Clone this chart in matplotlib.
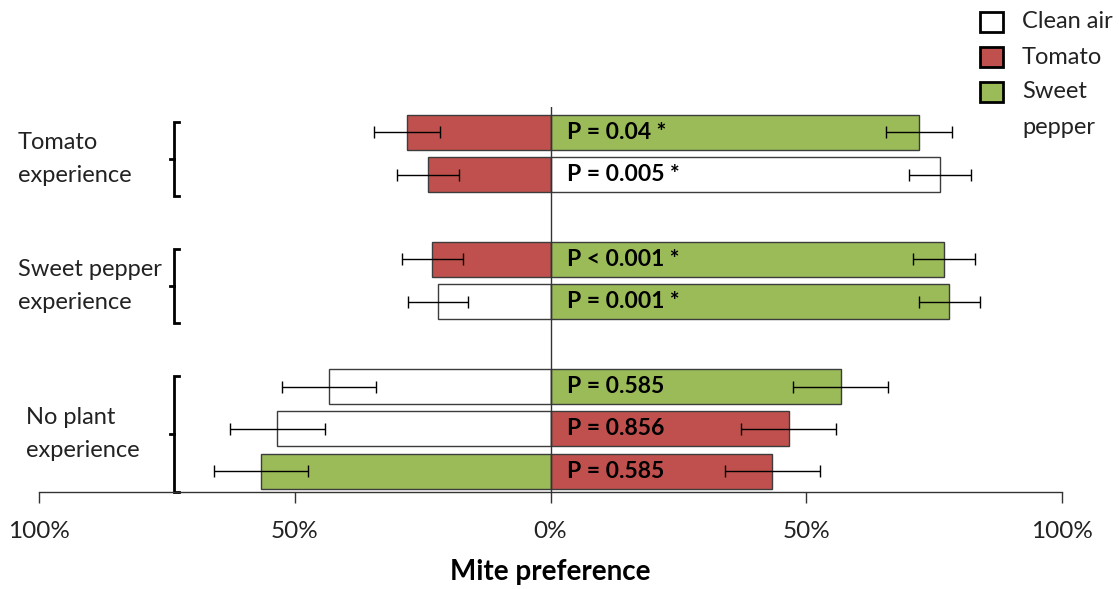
import matplotlib
matplotlib.use("Agg")
import matplotlib.pyplot as plt
from matplotlib.patches import Rectangle
from matplotlib.lines import Line2D

plt.rcParams['font.family'] = ['Lato', 'DejaVu Sans']

# --- data -----------------------------------------------------------------
groups = ["Tomato\nexperience", "Sweet pepper\nexperience", "No plant\nexperience"]
group_rows = [[0, 1], [2, 3], [4, 5, 6]]

odour_left = ["Tomato", "Tomato", "Tomato", "Clean air", "Clean air", "Clean air", "Sweet pepper"]
odour_right = ["Sweet pepper", "Clean air", "Sweet pepper", "Sweet pepper", "Sweet pepper", "Tomato", "Tomato"]
pct_right = [72.0, 76.1, 76.9, 78.0, 56.7, 46.6, 43.4]
pct_left = [28.1, 23.9, 23.1, 22.0, 43.3, 53.4, 56.6]
err = [6.4, 6.1, 6.0, 5.9, 9.2, 9.3, 9.2]
p_labels = ["P = 0.04 *", "P = 0.005 *", "P < 0.001 *", "P = 0.001 *",
            "P = 0.585", "P = 0.856", "P = 0.585"]

xticks = [-100, -50, 0, 50, 100]
xticklabels = ["100%", "50%", "0%", "50%", "100%"]
legend_keys = ["Clean air", "Tomato", "Sweet pepper"]
legend_labels = ["Clean air", "Tomato", "Sweet\npepper"]

colors = {"Clean air": "#FFFFFF", "Tomato": "#C0504D", "Sweet pepper": "#9BBB59"}
edge = "#3C3C3C"

# --- layout: rows with a blank slot between groups ----------------------
ypos = []
slot = 0
for g, rows in enumerate(group_rows):
    for _ in rows:
        ypos.append(slot)
        slot += 1
    slot += 1

W, H = 1119, 589
fig = plt.figure(figsize=(W / 100, H / 100), dpi=100)
ax = fig.add_axes([39 / W, 97 / H, 1023 / W, 385 / H])

bar_h = 0.83
for i, y in enumerate(ypos):
    ax.barh(y, -pct_left[i], height=bar_h, color=colors[odour_left[i]],
            edgecolor=edge, linewidth=1.0, zorder=2)
    ax.barh(y, pct_right[i], height=bar_h, color=colors[odour_right[i]],
            edgecolor=edge, linewidth=1.0, zorder=2)
    ax.errorbar(-pct_left[i], y, xerr=err[i], fmt='none', ecolor='black',
                elinewidth=1.0, capsize=4.3, capthick=1.0, zorder=3)
    ax.errorbar(pct_right[i], y, xerr=err[i], fmt='none', ecolor='black',
                elinewidth=1.0, capsize=4.3, capthick=1.0, zorder=3)
    ax.text(3.3, y, p_labels[i], ha='left', va='center', fontsize=16.5,
            fontweight='bold', color='black', zorder=4)

ax.axvline(0, color='#333333', linewidth=1.0, zorder=4)

ax.set_xlim(-100, 100)
ax.set_ylim(8.49, -0.6)
for s in ['top', 'right', 'left']:
    ax.spines[s].set_visible(False)
ax.spines['bottom'].set_color('#333333')
ax.spines['bottom'].set_linewidth(1.0)
ax.set_yticks([])
ax.set_xticks(xticks)
ax.set_xticklabels(xticklabels, fontsize=17.5, color='#222222')
ax.tick_params(axis='x', direction='out', length=8, width=1.0, color='#333333', pad=13)
ax.set_xlabel("Mite preference", fontsize=20, fontweight='bold', labelpad=12)

# group brackets and labels
bx = -73.6
label_x = [-104.2, -104.2, -102.5]
for g, rows in enumerate(group_rows):
    first = ypos[rows[0]]
    last = ypos[rows[-1]]
    top, bot = first - 0.25, last + 0.5
    mid = (top + bot) / 2
    ax.add_line(Line2D([bx + 0.9, bx, bx, bx + 0.9], [top, top, bot, bot],
                       color='black', linewidth=2.0, clip_on=False,
                       solid_joinstyle='miter'))
    ax.add_line(Line2D([bx, bx - 0.8], [mid, mid], color='black',
                       linewidth=2.0, clip_on=False))
    ax.text(label_x[g], mid, groups[g], ha='left', va='center', fontsize=17,
            linespacing=1.7, clip_on=False, color='#222222')

# legend
leg_y = [22, 57, 92]
line_gap = 35
for j, lab in enumerate(legend_labels):
    fig.add_artist(Rectangle((980 / W, 1 - (leg_y[j] + 10) / H), 23 / W, 20 / H,
                             transform=fig.transFigure, facecolor=colors[legend_keys[j]],
                             edgecolor='black', linewidth=2.0))
    for k, part in enumerate(lab.split("\n")):
        fig.text(1022 / W, 1 - (leg_y[j] + k * line_gap) / H, part, ha='left',
                 va='center', fontsize=17, color='#222222')

fig.savefig("out.png", dpi=100)
